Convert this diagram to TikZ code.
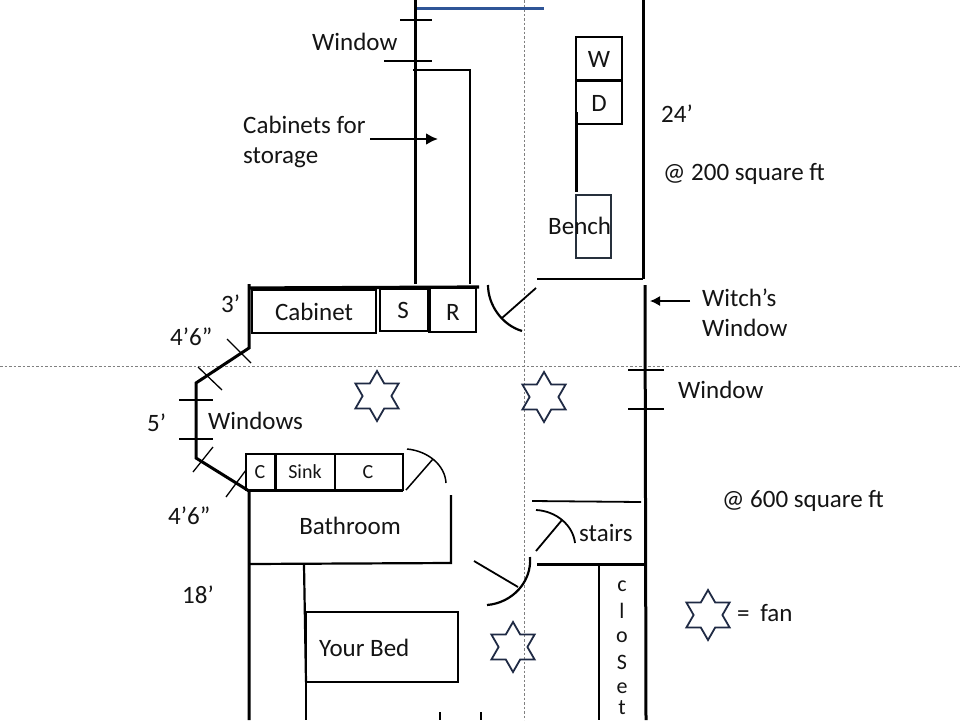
\documentclass[tikz,border=0pt]{standalone}
\usepackage{fontspec}
\usetikzlibrary{arrows.meta}
\setmainfont{Carlito}
\definecolor{starc}{HTML}{1F2A44}
\definecolor{bluel}{HTML}{2F5597}
\definecolor{benchc}{HTML}{26303C}
\tikzset{
 x=1pt,y=-1pt,
 wall/.style={line width=3pt,black},
 thin wall/.style={line width=2.2pt,black},
 box/.style={line width=1.8pt,draw=black},
 tick/.style={line width=1.3pt,black},
 guide/.style={line width=0.6pt,gray,dash pattern=on 2.5pt off 2pt},
 lbl/.style={font=\fontsize{25}{30}\selectfont,inner sep=0pt,align=left,text=black!92},
 small/.style={font=\fontsize{20}{24}\selectfont,inner sep=0pt,text=black!92},
 closet/.style={font=\fontsize{22}{26}\selectfont,inner sep=0pt,text=black!92},
 fan/.style={line width=1.8pt,draw=starc},
}
\newcommand{\fanstar}[2]{%
 \draw[fan] (#1,#2) ++(0,-25) -- ++(7.2,12.5) -- ++(14.4,0) -- ++(-7.2,12.5) -- ++(7.2,12.5) -- ++(-14.4,0)
 -- ++(-7.2,12.5) -- ++(-7.2,-12.5) -- ++(-14.4,0) -- ++(7.2,-12.5) -- ++(-7.2,-12.5) -- ++(14.4,0) -- cycle;}
\begin{document}
\begin{tikzpicture}
\useasboundingbox (0,0) rectangle (960,720);
\fill[white] (0,0) rectangle (960,720);
% guides
\draw[guide] (524,0) -- (524,720);
\draw[guide] (0,366) -- (960,366);
% upper room
\draw[line width=3pt,bluel] (416,8) -- (544,8);
\draw[wall] (415,0) -- (415,284);
\draw[tick] (400,20) -- (432,20);
\draw[tick] (384,61) -- (432,61);
\draw[thin wall] (413,70) -- (470,70) -- (470,284);
\draw[wall] (643,0) -- (643,279);
\draw[line width=1.8pt] (537,279) -- (643,279);
\draw[box] (576,37) rectangle (622,80);
\draw[box] (576,80) rectangle (622,124);
\draw[wall] (576,80) -- (622,80);
\draw[wall] (576,112) -- (576,192);
\draw[line width=1.2pt,draw=benchc] (576,195) rectangle (611,258);
% top wall and cabinets
\draw[line width=3.2pt] (249,288) -- (479,287);
\draw[box] (252,290) rectangle (376,333);
\draw[box] (380,289) rectangle (428,331);
\draw[box] (429,288) rectangle (476,332);
\draw[wall] (429,288) -- (429,332);
% door to witch room
\draw[thin wall] (488,285) .. controls (488,305) and (502,325) .. (522,331);
\draw[line width=1.8pt] (502,318) -- (536,288);
% left walls
\draw[wall] (249,284) -- (249,348) -- (196,383) -- (196,458) -- (249,491) -- (249,720);
\draw[tick] (227,339) -- (251,363);
\draw[tick] (198,367) -- (222,390);
\draw[tick] (179,400) -- (213,400);
\draw[tick] (179,439) -- (213,439);
\draw[tick] (213,447) -- (193,472);
\draw[tick] (246,470) -- (226,497);
% sink unit
\draw[box] (246,454) rectangle (403,490);
\draw[line width=3pt] (275,454) -- (275,490);
\draw[tick] (335,454) -- (335,490);
\draw[wall] (247,490) -- (403,490);
\draw[line width=1.5pt] (407,449) .. controls (428,451) and (445,465) .. (446,483);
\draw[line width=1.5pt] (406,490) -- (433,459);
% bathroom
\draw[thin wall] (451,495) -- (451,563) -- (249,564);
\draw[thin wall] (304,565) -- (306,682);
\draw[line width=1.5pt] (306,682) -- (306,720);
\draw[line width=1.8pt] (474,561) -- (518,587);
\draw[thin wall] (487,605) .. controls (512,603) and (532,582) .. (530,557);
% stairs
\draw[line width=1.8pt] (532,501) -- (641,502);
\draw[line width=1.8pt] (536,510) .. controls (556,511) and (573,525) .. (575,543);
\draw[line width=1.8pt] (536,551) -- (562,520);
\draw[wall] (537,564) -- (646,564);
\draw[thin wall] (599,564) -- (599,720);
\draw[wall] (645,285) -- (646,720);
\draw[tick] (628,370) -- (664,370);
\draw[tick] (628,409) -- (664,409);
\draw[box] (306,612) rectangle (458,682);
\draw[line width=1.5pt] (440,712) -- (440,720);
\draw[line width=1.5pt] (481,712) -- (481,720);
% arrows
\draw[line width=2.6pt,-{Latex[length=12pt,width=12pt]}] (370,139) -- (438,139);
\draw[line width=1.3pt,-{Latex[length=10pt,width=10pt]}] (690,301) -- (650,301);
% fans
\fanstar{377}{396}
\fanstar{544}{397}
\fanstar{513}{647}
\fanstar{708}{615}
% labels
\node[lbl,anchor=west] (t1) at (312,42) {Window};
\node[lbl,anchor=west] (t2) at (243,142) {Cabinets for\\storage};
\node[lbl] (t3) at (599,59) {W};
\node[lbl] (t4) at (599,103) {D};
\node[lbl,anchor=west] (t5) at (661,114) {24’};
\node[lbl,anchor=west] (t6) at (663,174) {@ 200 square ft};
\node[lbl,anchor=west] (t7) at (548,226) {Bench};
\node[lbl,anchor=west] (t8) at (702,313) {Witch’s\\Window};
\node[lbl,anchor=west] (t9) at (678,390) {Window};
\node[lbl,anchor=west] (t10) at (221,304) {3’};
\node[lbl] (t11) at (314,312) {Cabinet};
\node[lbl] (t12) at (403,310) {S};
\node[lbl] (t13) at (453,312) {R};
\node[lbl,anchor=west] (t14) at (170,337) {4’6”};
\node[lbl,anchor=west] (t15) at (147,423) {5’};
\node[lbl,anchor=west] (t16) at (208,421) {Windows};
\node[small] (t17) at (260,472) {C};
\node[small] (t18) at (305,472) {Sink};
\node[small] (t19) at (368,472) {C};
\node[lbl,anchor=west] (t20) at (168,516) {4’6”};
\node[lbl] (t21) at (350,526) {Bathroom};
\node[lbl,anchor=west] (t22) at (579,533) {stairs};
\node[lbl,anchor=west] (t23) at (722,501) {@ 600 square ft};
\node[lbl,anchor=west] (t24) at (182,595) {18’};
\node[lbl,anchor=west] (t25) at (319,648) {Your Bed};
\node[lbl,anchor=west] (t26) at (737,613) {=\hspace{0.2em} fan};
\node[closet] (c1) at (622,586) {c};
\node[closet] (c2) at (622,611) {l};
\node[closet] (c3) at (622,637) {o};
\node[closet] (c4) at (622,662) {S};
\node[closet] (c5) at (622,688) {e};
\node[closet] (c6) at (622,708) {t};
\end{tikzpicture}
\end{document}
